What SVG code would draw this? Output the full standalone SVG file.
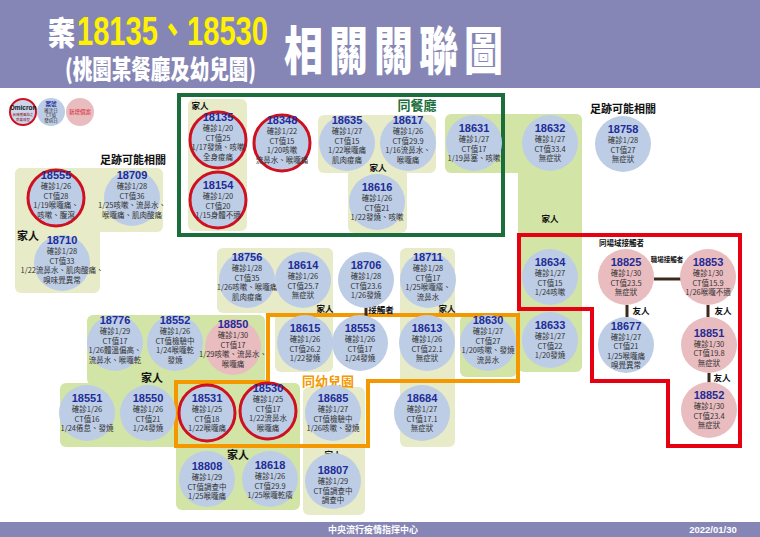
<svg xmlns="http://www.w3.org/2000/svg" width="760" height="537" viewBox="0 0 760 537">
<style>
.pb{fill:#bdcde6}
.pp{fill:#e9bcc0}
.ring{stroke:#cf1020;stroke-width:3}
.id{font-family:"Liberation Sans",Arial,sans-serif;font-weight:bold;font-size:11px;fill:#1e2c96;text-anchor:middle}
.t{font-family:"Noto Sans CJK TC","Noto Sans",sans-serif;font-size:7.5px;fill:#333;text-anchor:middle}
.py{fill:#e8ebc7}
.pg{fill:#d3e4a7}
.lb{font-family:"Noto Sans CJK TC",sans-serif;font-weight:bold;fill:#111;text-anchor:middle}
.con{stroke:#3b2a1c;stroke-width:3;fill:none}
.box{fill:none;stroke-width:4}
</style>
<rect width="760" height="537" fill="#ffffff"/>
<g id="header">
<rect x="0" y="0" width="760" height="88" fill="#8686b6"/>
<g transform="translate(48,45) scale(0.82,1)"><text x="0" y="0" font-family="Noto Sans CJK TC,sans-serif" font-weight="900" font-size="33" fill="#fff">案</text></g>
<g transform="translate(77,45) scale(0.71,1)"><text x="0" y="0" font-family="Liberation Sans,Arial,Noto Sans CJK TC,sans-serif" font-weight="bold" font-size="41" fill="#fff200">18135、18530</text></g>
<g transform="translate(65,79) scale(0.75,1)"><text x="0" y="0" font-family="Noto Sans CJK TC,sans-serif" font-weight="900" font-size="26" fill="#fff">(桃園某餐廳及幼兒園)</text></g>
<g transform="translate(284,70) scale(0.75,1)">
<text x="0 60 120 180 240" y="0" font-family="Noto Sans CJK TC,sans-serif" font-weight="900" font-size="52" fill="#fff">相關關聯圖</text>
</g>
</g>
<g id="footer">
<rect x="0" y="522" width="760" height="15" fill="#8686b6"/>
<text x="373" y="533" font-family="Noto Sans CJK TC,sans-serif" font-weight="bold" font-size="9" fill="#fff" text-anchor="middle">中央流行疫情指揮中心</text>
<text x="713" y="533" font-family="Liberation Sans,Arial,sans-serif" font-weight="bold" font-size="9.5" fill="#fff" text-anchor="middle">2022/01/30</text>
</g>
<g id="legend">
<circle cx="23" cy="112" r="13" fill="#c9d6ec" stroke="#cf1020" stroke-width="2"/>
<text x="23" y="110" font-family="Liberation Sans,Arial,sans-serif" font-weight="bold" font-size="6.5" fill="#111" text-anchor="middle">Omicron</text>
<text x="23" y="116" class="t" style="font-size:3.5px;fill:#8a1010">具傳播風險之</text>
<text x="23" y="121" class="t" style="font-size:3.5px;fill:#8a1010">病毒株型</text>
<circle cx="51" cy="112" r="14" class="pb"/>
<text x="51" y="106" class="t" style="font-size:5.5px;font-weight:bold;fill:#1e2c96">案號</text>
<text x="51" y="112" class="t" style="font-size:4.5px">確診日</text>
<text x="51" y="117" class="t" style="font-size:4.5px">CT值</text>
<text x="51" y="122" class="t" style="font-size:4.5px">發病日</text>
<circle cx="80" cy="112" r="14" class="pp"/>
<text x="80" y="114" class="t" style="font-size:5.5px;fill:#d0202a">新增個案</text>
</g>
<g id="pads">
<rect x="188" y="99" width="59" height="132" rx="6" class="py"/>
<rect x="318" y="115" width="118" height="58" rx="6" class="py"/>
<rect x="348" y="115" width="59" height="118" rx="6" class="py"/>
<rect x="445" y="114" width="137" height="59" rx="6" class="pg"/>
<rect x="518" y="114" width="64" height="258" rx="6" class="pg"/>
<rect x="15" y="168" width="148" height="64" rx="6" class="py"/>
<rect x="15" y="168" width="85" height="125" rx="6" class="py"/>
<rect x="217" y="248" width="116" height="65" rx="6" class="py"/>
<rect x="275" y="248" width="58" height="124" rx="6" class="py"/>
<rect x="400" y="248" width="55" height="199" rx="6" class="py"/>
<rect x="87" y="315" width="178" height="70" rx="6" class="pg"/>
<rect x="60" y="383" width="240" height="64" rx="6" class="pg"/>
<rect x="176" y="383" width="124" height="127" rx="6" class="pg"/>
<rect x="460" y="315" width="57" height="62" rx="6" class="pg"/>
<rect x="303" y="387" width="62" height="128" rx="6" class="py"/>
</g>
<g id="groups">
<rect x="179" y="95" width="324" height="140" class="box" stroke="#1b6d3b"/>
<path d="M519,235 H740 V446 H668 V381 H592 V309 H519 Z" class="box" stroke="#e60012"/>
<path d="M268,315 H518 V381 H368 V446 H176 V382 H268 Z" class="box" stroke="#f39800"/>
</g>
<g id="labels">
<text x="417" y="110" font-family="Noto Sans CJK TC,sans-serif" font-weight="bold" font-size="13" fill="#1b6d3b" text-anchor="middle">同餐廳</text>
<text x="328" y="386" font-family="Noto Sans CJK TC,sans-serif" font-weight="bold" font-size="13" fill="#f39800" text-anchor="middle">同幼兒園</text>
<text x="133" y="164" class="lb" font-size="11">足跡可能相關</text>
<text x="623" y="113" class="lb" font-size="11">足跡可能相關</text>
<text x="200" y="109" class="lb" font-size="8.5">家人</text>
<text x="378" y="171" class="lb" font-size="8.5">家人</text>
<text x="550" y="222" class="lb" font-size="8.5">家人</text>
<text x="28" y="240" class="lb" font-size="11">家人</text>
<text x="325" y="312" class="lb" font-size="8.5">家人</text>
<text x="447" y="312" class="lb" font-size="8.5">家人</text>
<text x="152" y="382" class="lb" font-size="11">家人</text>
<text x="238" y="459" class="lb" font-size="11">家人</text>
<text x="333" y="458" class="lb" font-size="8.5">家人</text>
<text x="381" y="313" class="lb" font-size="8.5">接觸者</text>
<text x="599" y="246" class="lb" font-size="7.5" style="text-anchor:start">同場域接觸者</text>
<text x="667" y="262" class="lb" font-size="6.5">職場接觸者</text>
<text x="641" y="314" class="lb" font-size="8.5">友人</text>
<text x="723" y="314" class="lb" font-size="8.5">友人</text>
<text x="722" y="381" class="lb" font-size="8.5">友人</text>
</g>
<g id="connectors">
<line x1="654" y1="279" x2="681" y2="279" class="con"/>
<line x1="627" y1="305" x2="627" y2="317" class="con"/>
<line x1="708" y1="305" x2="708" y2="317" class="con"/>
<line x1="709" y1="373" x2="709" y2="383" class="con"/>
<line x1="366" y1="306" x2="366" y2="316" class="con"/>
</g>
<g id="n18135"><circle cx="218" cy="140" r="28" class="pb ring"/><text class="id" x="218" y="121">18135</text><text class="t" x="218" y="131">確診1/20</text><text class="t" x="218" y="140.5">CT值25</text><text class="t" x="218" y="150">1/17發燒、咳嗽</text><text class="t" x="218" y="159.5">全身痠痛</text></g>
<g id="n18154"><circle cx="218" cy="200" r="28" class="pb ring"/><text class="id" x="218" y="189">18154</text><text class="t" x="218" y="199">確診1/20</text><text class="t" x="218" y="208.5">CT值20</text><text class="t" x="218" y="218">1/15身體不適</text></g>
<g id="n18348"><circle cx="282" cy="143" r="28" class="pb ring"/><text class="id" x="282" y="124">18348</text><text class="t" x="282" y="134">確診1/22</text><text class="t" x="282" y="143.5">CT值15</text><text class="t" x="282" y="153">1/20咳嗽</text><text class="t" x="282" y="162.5">流鼻水、喉嚨痛</text></g>
<g id="n18635"><circle cx="347" cy="143" r="28" class="pb"/><text class="id" x="347" y="124">18635</text><text class="t" x="347" y="134">確診1/27</text><text class="t" x="347" y="143.5">CT值15</text><text class="t" x="347" y="153">1/22喉嚨痛</text><text class="t" x="347" y="162.5">肌肉痠痛</text></g>
<g id="n18617"><circle cx="408" cy="143" r="28" class="pb"/><text class="id" x="408" y="124">18617</text><text class="t" x="408" y="134">確診1/26</text><text class="t" x="408" y="143.5">CT值29.9</text><text class="t" x="408" y="153">1/16流鼻水、</text><text class="t" x="408" y="162.5">喉嚨痛</text></g>
<g id="n18616"><circle cx="377" cy="202" r="28" class="pb"/><text class="id" x="377" y="191">18616</text><text class="t" x="377" y="201">確診1/26</text><text class="t" x="377" y="210.5">CT值21</text><text class="t" x="377" y="220">1/22發燒、咳嗽</text></g>
<g id="n18631"><circle cx="474" cy="143" r="28" class="pb"/><text class="id" x="474" y="132">18631</text><text class="t" x="474" y="142">確診1/27</text><text class="t" x="474" y="151.5">CT值17</text><text class="t" x="474" y="161">1/19鼻塞、咳嗽</text></g>
<g id="n18632"><circle cx="550" cy="143" r="28" class="pb"/><text class="id" x="550" y="132">18632</text><text class="t" x="550" y="142">確診1/27</text><text class="t" x="550" y="151.5">CT值33.4</text><text class="t" x="550" y="161">無症狀</text></g>
<g id="n18758"><circle cx="623" cy="144" r="28" class="pb"/><text class="id" x="623" y="133">18758</text><text class="t" x="623" y="143">確診1/28</text><text class="t" x="623" y="152.5">CT值27</text><text class="t" x="623" y="162">無症狀</text></g>
<g id="n18555"><circle cx="56" cy="198" r="28" class="pb ring"/><text class="id" x="56" y="179">18555</text><text class="t" x="56" y="189">確診1/26</text><text class="t" x="56" y="198.5">CT值28</text><text class="t" x="56" y="208">1/19喉嚨痛、</text><text class="t" x="56" y="217.5">咳嗽、腹瀉</text></g>
<g id="n18709"><circle cx="132" cy="198" r="28" class="pb"/><text class="id" x="132" y="179">18709</text><text class="t" x="132" y="189">確診1/28</text><text class="t" x="132" y="198.5">CT值36</text><text class="t" x="132" y="208">1/25咳嗽、流鼻水、</text><text class="t" x="132" y="217.5">喉嚨痛、肌肉酸痛</text></g>
<g id="n18710"><circle cx="62" cy="263" r="28" class="pb"/><text class="id" x="62" y="244">18710</text><text class="t" x="62" y="254">確診1/28</text><text class="t" x="62" y="263.5">CT值33</text><text class="t" x="62" y="273">1/22流鼻水、肌肉酸痛、</text><text class="t" x="62" y="282.5">嗅味覺異常</text></g>
<g id="n18756"><circle cx="247" cy="280" r="28" class="pb"/><text class="id" x="247" y="261">18756</text><text class="t" x="247" y="271">確診1/28</text><text class="t" x="247" y="280.5">CT值35</text><text class="t" x="247" y="290">1/26咳嗽、喉嚨痛</text><text class="t" x="247" y="299.5">肌肉痠痛</text></g>
<g id="n18614"><circle cx="303" cy="280" r="28" class="pb"/><text class="id" x="303" y="269">18614</text><text class="t" x="303" y="279">確診1/26</text><text class="t" x="303" y="288.5">CT值25.7</text><text class="t" x="303" y="298">無症狀</text></g>
<g id="n18706"><circle cx="366" cy="280" r="28" class="pb"/><text class="id" x="366" y="269">18706</text><text class="t" x="366" y="279">確診1/28</text><text class="t" x="366" y="288.5">CT值23.6</text><text class="t" x="366" y="298">1/26發燒</text></g>
<g id="n18711"><circle cx="428" cy="280" r="28" class="pb"/><text class="id" x="428" y="261">18711</text><text class="t" x="428" y="271">確診1/28</text><text class="t" x="428" y="280.5">CT值17</text><text class="t" x="428" y="290">1/25喉嚨癢、</text><text class="t" x="428" y="299.5">流鼻水</text></g>
<g id="n18634"><circle cx="550" cy="277" r="28" class="pb"/><text class="id" x="550" y="266">18634</text><text class="t" x="550" y="276">確診1/27</text><text class="t" x="550" y="285.5">CT值15</text><text class="t" x="550" y="295">1/24咳嗽</text></g>
<g id="n18825"><circle cx="626" cy="277" r="28" class="pp"/><text class="id" x="626" y="266">18825</text><text class="t" x="626" y="276">確診1/30</text><text class="t" x="626" y="285.5">CT值23.5</text><text class="t" x="626" y="295">無症狀</text></g>
<g id="n18853"><circle cx="708" cy="277" r="28" class="pp"/><text class="id" x="708" y="266">18853</text><text class="t" x="708" y="276">確診1/30</text><text class="t" x="708" y="285.5">CT值15.9</text><text class="t" x="708" y="295">1/26喉嚨不適</text></g>
<g id="n18776"><circle cx="115" cy="343" r="28" class="pb"/><text class="id" x="115" y="324">18776</text><text class="t" x="115" y="334">確診1/29</text><text class="t" x="115" y="343.5">CT值17</text><text class="t" x="115" y="353">1/26體溫偏高、</text><text class="t" x="115" y="362.5">流鼻水、喉嚨乾</text></g>
<g id="n18552"><circle cx="175" cy="343" r="28" class="pb"/><text class="id" x="175" y="324">18552</text><text class="t" x="175" y="334">確診1/26</text><text class="t" x="175" y="343.5">CT值檢驗中</text><text class="t" x="175" y="353">1/24喉嚨乾</text><text class="t" x="175" y="362.5">發燒</text></g>
<g id="n18850"><circle cx="233" cy="347" r="28" class="pp"/><text class="id" x="233" y="328">18850</text><text class="t" x="233" y="338">確診1/30</text><text class="t" x="233" y="347.5">CT值17</text><text class="t" x="233" y="357">1/29咳嗽、流鼻水、</text><text class="t" x="233" y="366.5">喉嚨痛</text></g>
<g id="n18615"><circle cx="305" cy="343" r="28" class="pb"/><text class="id" x="305" y="332">18615</text><text class="t" x="305" y="342">確診1/26</text><text class="t" x="305" y="351.5">CT值26.2</text><text class="t" x="305" y="361">1/22發燒</text></g>
<g id="n18553"><circle cx="360" cy="343" r="28" class="pb"/><text class="id" x="360" y="332">18553</text><text class="t" x="360" y="342">確診1/26</text><text class="t" x="360" y="351.5">CT值17</text><text class="t" x="360" y="361">1/24發燒</text></g>
<g id="n18613"><circle cx="427" cy="343" r="28" class="pb"/><text class="id" x="427" y="332">18613</text><text class="t" x="427" y="342">確診1/26</text><text class="t" x="427" y="351.5">CT值22.1</text><text class="t" x="427" y="361">無症狀</text></g>
<g id="n18630"><circle cx="488" cy="343" r="28" class="pb"/><text class="id" x="488" y="324">18630</text><text class="t" x="488" y="334">確診1/27</text><text class="t" x="488" y="343.5">CT值27</text><text class="t" x="488" y="353">1/20咳嗽、發燒</text><text class="t" x="488" y="362.5">流鼻水</text></g>
<g id="n18633"><circle cx="550" cy="340" r="28" class="pb"/><text class="id" x="550" y="329">18633</text><text class="t" x="550" y="339">確診1/27</text><text class="t" x="550" y="348.5">CT值22</text><text class="t" x="550" y="358">1/20發燒</text></g>
<g id="n18677"><circle cx="626" cy="345" r="28" class="pb"/><text class="id" x="626" y="330">18677</text><text class="t" x="626" y="339.5">確診1/27</text><text class="t" x="626" y="349">CT值21</text><text class="t" x="626" y="358.5">1/25喉嚨痛</text><text class="t" x="626" y="368">嗅覺異常</text></g>
<g id="n18851"><circle cx="709" cy="345" r="28" class="pp"/><text class="id" x="709" y="337">18851</text><text class="t" x="709" y="346.5">確診1/30</text><text class="t" x="709" y="356">CT值19.8</text><text class="t" x="709" y="365.5">無症狀</text></g>
<g id="n18551"><circle cx="87" cy="413" r="28" class="pb"/><text class="id" x="87" y="402">18551</text><text class="t" x="87" y="412">確診1/26</text><text class="t" x="87" y="421.5">CT值16</text><text class="t" x="87" y="431">1/24倦怠、發燒</text></g>
<g id="n18550"><circle cx="148" cy="413" r="28" class="pb"/><text class="id" x="148" y="402">18550</text><text class="t" x="148" y="412">確診1/26</text><text class="t" x="148" y="421.5">CT值21</text><text class="t" x="148" y="431">1/24發燒</text></g>
<g id="n18531"><circle cx="207" cy="413" r="28" class="pb ring"/><text class="id" x="207" y="402">18531</text><text class="t" x="207" y="412">確診1/25</text><text class="t" x="207" y="421.5">CT值18</text><text class="t" x="207" y="431">1/22喉嚨痛</text></g>
<g id="n18530"><circle cx="268" cy="411" r="28" class="pb ring"/><text class="id" x="268" y="392">18530</text><text class="t" x="268" y="402">確診1/25</text><text class="t" x="268" y="411.5">CT值17</text><text class="t" x="268" y="421">1/22流鼻水</text><text class="t" x="268" y="430.5">喉嚨痛</text></g>
<g id="n18685"><circle cx="333" cy="413" r="28" class="pb"/><text class="id" x="333" y="402">18685</text><text class="t" x="333" y="412">確診1/27</text><text class="t" x="333" y="421.5">CT值檢驗中</text><text class="t" x="333" y="431">1/26咳嗽、發燒</text></g>
<g id="n18684"><circle cx="422" cy="413" r="28" class="pb"/><text class="id" x="422" y="402">18684</text><text class="t" x="422" y="412">確診1/27</text><text class="t" x="422" y="421.5">CT值17.1</text><text class="t" x="422" y="431">無症狀</text></g>
<g id="n18852"><circle cx="709" cy="410" r="28" class="pp"/><text class="id" x="709" y="399">18852</text><text class="t" x="709" y="409">確診1/30</text><text class="t" x="709" y="418.5">CT值23.4</text><text class="t" x="709" y="428">無症狀</text></g>
<g id="n18808"><circle cx="207" cy="479" r="28" class="pb"/><text class="id" x="207" y="470">18808</text><text class="t" x="207" y="480">確診1/29</text><text class="t" x="207" y="489.5">CT值調查中</text><text class="t" x="207" y="499">1/25喉嚨痛</text></g>
<g id="n18618"><circle cx="270" cy="479" r="28" class="pb"/><text class="id" x="270" y="469">18618</text><text class="t" x="270" y="479">確診1/26</text><text class="t" x="270" y="488.5">CT值29.9</text><text class="t" x="270" y="498">1/25喉嚨乾癢</text></g>
<g id="n18807"><circle cx="333" cy="481" r="28" class="pb"/><text class="id" x="333" y="474">18807</text><text class="t" x="333" y="484">確診1/29</text><text class="t" x="333" y="493.5">CT值調查中</text><text class="t" x="333" y="503">調查中</text></g>
</svg>
